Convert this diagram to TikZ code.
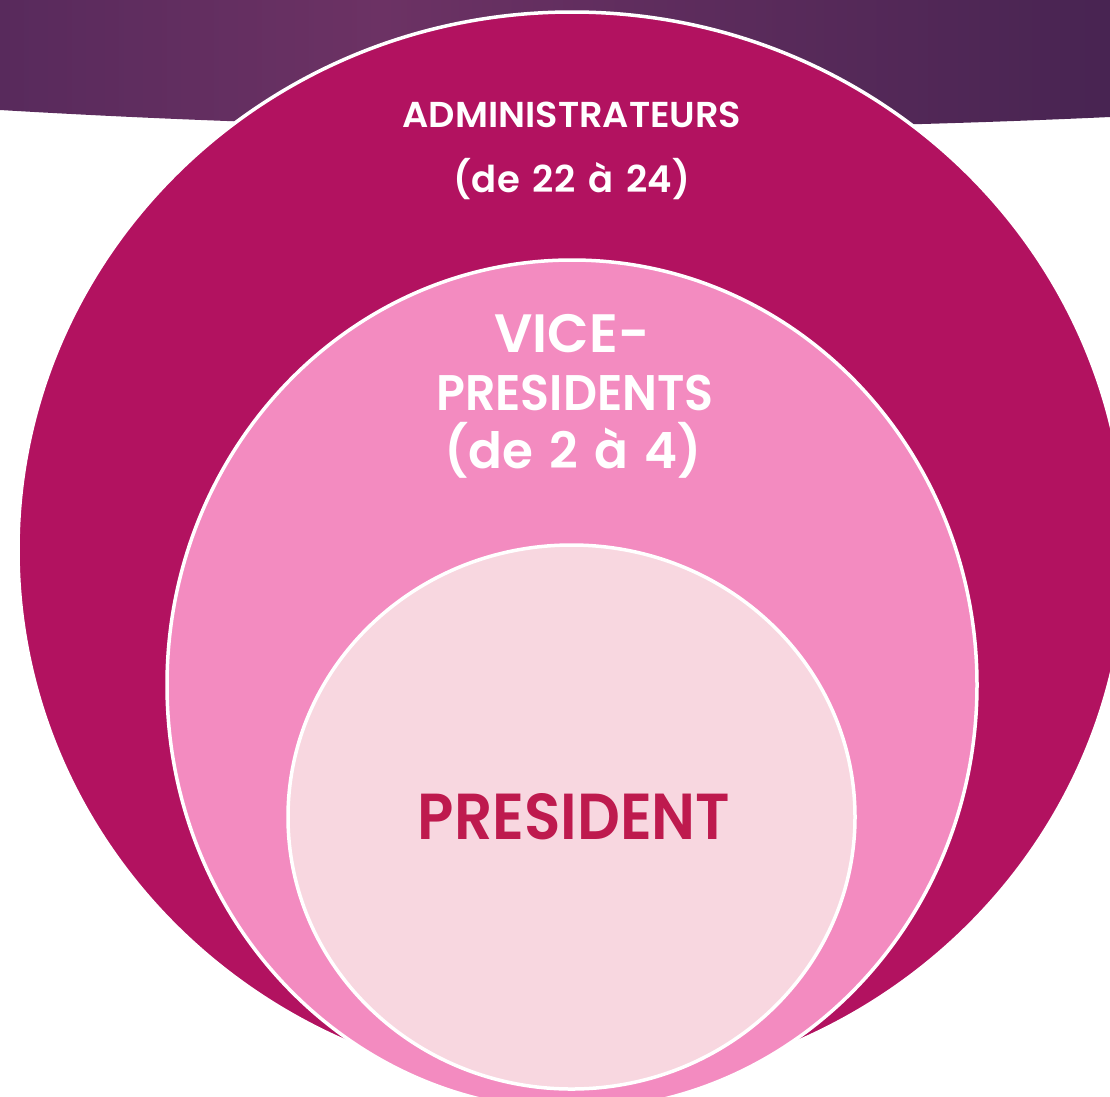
\documentclass[tikz,border=0pt]{standalone}
\usepackage{fontspec}
\setmainfont{Poppins}[BoldFont={* SemiBold}]
\definecolor{banL}{RGB}{88,42,92}
\definecolor{banM}{RGB}{108,50,100}
\definecolor{banR}{RGB}{72,36,82}
\definecolor{bigc}{RGB}{178,18,96}
\definecolor{midc}{RGB}{243,139,192}
\definecolor{smallc}{RGB}{248,215,224}
\definecolor{prestxt}{RGB}{190,26,78}
\begin{document}
\begin{tikzpicture}[x=1pt,y=-1pt,
  ring/.style={draw=white,line width=3.5pt},
  whitelbl/.style={text=white,font=\bfseries,anchor=base,inner sep=0pt}]
\useasboundingbox (0,0) rectangle (1110,1096);
\fill[white] (0,0) rectangle (1110,1096);
% banner
\begin{scope}
\clip (0,0) -- (1110,0) -- (1110,117) .. controls (740,134) and (370,132) .. (0,110) -- cycle;
\shade[left color=banL,right color=banM] (0,0) rectangle (380,140);
\shade[left color=banM,right color=banR] (380,0) rectangle (1110,140);
\end{scope}
% circles
\begin{scope}
\clip (0,0) rectangle (1110,1096);
\filldraw[ring,fill=bigc] (572,550) ellipse [x radius=554,y radius=538];
\filldraw[ring,fill=midc] (572,685) ellipse [x radius=405,y radius=425];
\filldraw[ring,fill=smallc] (571.5,817) ellipse [x radius=283.5,y radius=272];
\end{scope}
% labels
\node[whitelbl,font=\bfseries\fontsize{36}{40}\selectfont,xscale=1.02] (adm1) at (572,127) {ADMINISTRATEURS};
\node[whitelbl,font=\bfseries\fontsize{37}{40}\selectfont] (adm2) at (572,192) {\spaceskip=13pt (de 22 à 24)};
\node[whitelbl,font=\bfseries\fontsize{54}{58}\selectfont] (vp1) at (572,352) {VICE-};
\node[whitelbl,font=\bfseries\fontsize{50}{58}\selectfont,xscale=0.95] (vp2) at (575,410) {PRESIDENTS};
\node[whitelbl,font=\bfseries\fontsize{50}{58}\selectfont] (vp3) at (573,468) {\spaceskip=16pt (de 2 à 4)};
\node[whitelbl,text=prestxt,font=\bfseries\fontsize{65}{70}\selectfont,xscale=0.92] (pres) at (574,839) {PRESIDENT};
\end{tikzpicture}
\end{document}
